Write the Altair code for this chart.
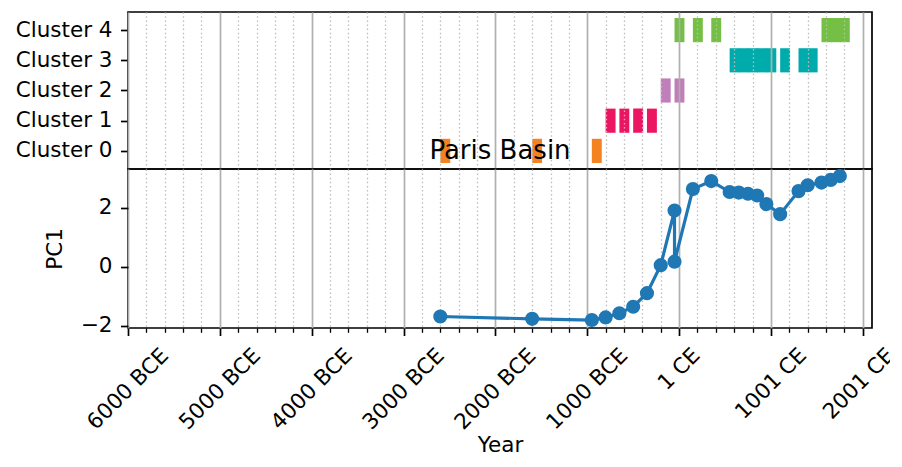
import altair as alt
import pandas as pd

# ---- data ----
years = [-2600, -1600, -950, -800, -650, -500, -350, -200, -50, -50, 150, 350,
         550, 650, 750, 850, 950, 1100, 1300, 1400, 1550, 1650, 1750]
pc1 = [-1.68, -1.76, -1.80, -1.71, -1.57, -1.35, -0.89, 0.06, 1.91, 0.18, 2.64, 2.91,
       2.54, 2.52, 2.48, 2.42, 2.13, 1.79, 2.57, 2.77, 2.86, 2.95, 3.08]
clusters = [0, 0, 0, 1, 1, 1, 1, 2, 4, 2, 4, 4,
            3, 3, 3, 3, 3, 3, 3, 3, 4, 4, 4]
cluster_ids = [0, 1, 2, 3, 4]
cluster_colors = ["#F58220", "#EC1561", "#C07FBB", "#00ABAB", "#74BF44"]
major_ticks = [-6000, -5000, -4000, -3000, -2000, -1000, 0, 1000, 2000]
minor_ticks = [v for v in range(-5800, 2100, 200) if v % 1000 != 0]
pc1_ticks = [-2, 0, 2]
panel_title = "Paris Basin"

df = pd.DataFrame({"year": years, "pc1": pc1, "cluster": clusters,
                   "order": list(range(len(years)))})

FONT = "DejaVu Sans"
FS = 21.5
BAR_SPAN = 108  # length of each cluster bar, in years
GRID_MAJOR = "#b0b0b0"
GRID_MINOR = "#bdbdbd"

xscale = alt.Scale(domain=[-6000, 2100], nice=False, zero=False)

# ---------------- top panel: cluster membership ----------------
top_base = alt.Chart(df).transform_calculate(
    end=f"datum.year + {BAR_SPAN}",
    lo="datum.cluster - 0.4",
    hi="datum.cluster + 0.4",
)
bars = top_base.mark_rect().encode(
    x=alt.X("year:Q", scale=xscale,
            axis=alt.Axis(values=major_ticks, grid=True, gridColor=GRID_MAJOR,
                          gridWidth=1.7, labels=False, ticks=False, domain=False,
                          title=None, zindex=1, orient="bottom")),
    x2="end:Q",
    y=alt.Y("lo:Q", scale=alt.Scale(domain=[-0.6, 4.6], nice=False, zero=False),
            axis=alt.Axis(values=cluster_ids, labelExpr="'Cluster ' + datum.value",
                          grid=False, domain=False, tickSize=7.5, tickWidth=1.7,
                          tickColor="black", labelPadding=8.5, title=None)),
    y2="hi:Q",
    color=alt.Color("cluster:N", scale=alt.Scale(domain=cluster_ids, range=cluster_colors),
                    legend=None),
)
top_minor = top_base.mark_rule(opacity=0).encode(
    x=alt.X("year:Q", scale=xscale,
            axis=alt.Axis(values=minor_ticks, grid=True, gridColor=GRID_MINOR,
                          gridWidth=1.3, gridDash=[1.5, 2.6], labels=False, ticks=False,
                          domain=False, title=None, zindex=1, orient="bottom")),
)
top = alt.layer(bars, top_minor).resolve_axis(x="independent").properties(width=744, height=157)

# ---------------- bottom panel: PC1 over time ----------------
label_pad = {"condition": [{"test": "datum.value == 0", "value": 33.7},
                           {"test": "datum.value > 0", "value": 48.2}],
             "value": 53.5}
label_shift = {"condition": {"test": "datum.value == 2000", "value": -4}, "value": 0}
line = alt.Chart(df).mark_line(color="#1f77b4", strokeWidth=3.2).encode(
    x=alt.X("year:Q", scale=xscale,
            axis=alt.Axis(values=major_ticks, grid=True, gridColor=GRID_MAJOR, gridWidth=1.7,
                          tickSize=7.5, tickWidth=1.7, tickColor="black", domain=False,
                          labelExpr="datum.value < 0 ? (-datum.value) + ' BCE' : (datum.value + 1) + ' CE'",
                          labelAngle=-45, labelAlign="center", labelBaseline="middle",
                          labelPadding=label_pad, labelOffset=label_shift,
                          labelOverlap=False, labelFlush=False,
                          title="Year", titlePadding=1.5, orient="bottom")),
    y=alt.Y("pc1:Q", scale=alt.Scale(domain=[-2.07, 3.32], nice=False, zero=False),
            axis=alt.Axis(values=pc1_ticks,
                          labelExpr="datum.value < 0 ? '\u2212' + abs(datum.value) : '' + datum.value",
                          grid=False, domain=False, tickSize=7.5, tickWidth=1.7,
                          tickColor="black", labelPadding=8.5, title="PC1", titlePadding=14)),
    order="order:Q",
)
points = alt.Chart(df).mark_circle(color="#1f77b4", size=200, opacity=1).encode(
    x=alt.X("year:Q", scale=xscale,
            axis=alt.Axis(values=minor_ticks, grid=True, gridColor=GRID_MINOR,
                          gridWidth=1.3, gridDash=[1.5, 2.6], labels=False,
                          tickSize=4.3, tickWidth=1.3, tickColor="black",
                          domain=False, title=None, orient="bottom")),
    y="pc1:Q",
)
bottom = alt.layer(line, points).resolve_axis(x="independent").properties(
    width=744, height=159,
    title=alt.TitleParams(panel_title, fontSize=26, fontWeight="normal", font=FONT,
                          color="black", anchor="middle", frame="group",
                          baseline="alphabetic", offset=-16),
)

chart = alt.vconcat(top, bottom, spacing=0, bounds="flush").properties(
    padding={"left": 6, "top": 3, "right": -9, "bottom": -5}
).configure_view(
    stroke="black", strokeWidth=1.7
).configure_axis(
    labelFont=FONT, titleFont=FONT, labelFontSize=FS, titleFontSize=FS,
    labelColor="black", titleColor="black", titleFontWeight="normal",
)

chart.save("out.html", embed_options={"renderer": "svg", "actions": False})
